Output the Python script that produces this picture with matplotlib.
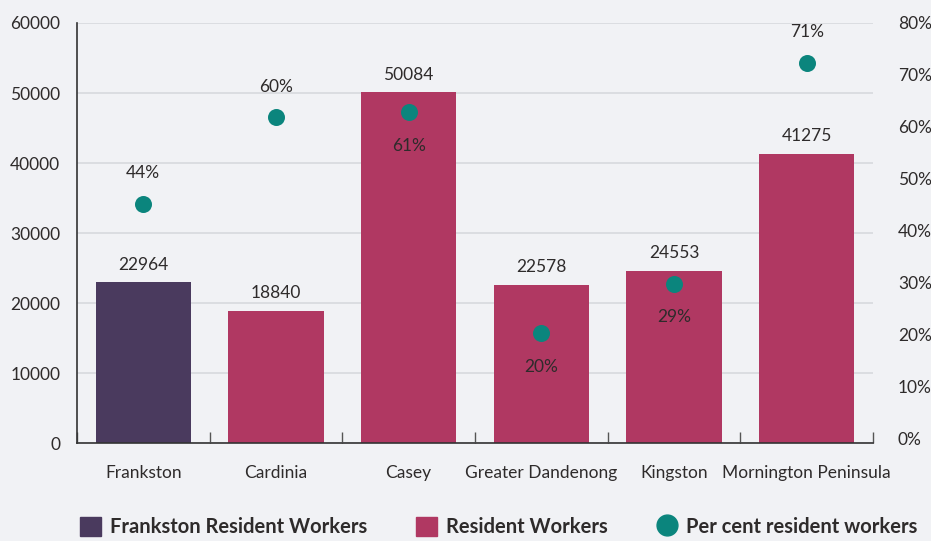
import numpy as np
import matplotlib.pyplot as plt
from matplotlib.patches import Patch
from matplotlib.lines import Line2D

plt.rcParams['font.family'] = ['Lato', 'DejaVu Sans']

# data
councils = ['Frankston', 'Cardinia', 'Casey', 'Greater Dandenong', 'Kingston', 'Mornington Peninsula']
resident_workers = [22964, 18840, 50084, 22578, 24553, 41275]
# dot positions as drawn, and the labels printed next to them
pct_resident = [45.2, 61.9, 62.8, 20.3, 29.8, 72.4]
pct_labels = ['44%', '60%', '61%', '20%', '29%', '71%']
pct_label_side = ['above', 'above', 'below', 'below', 'below', 'above']

bg = '#f1f2f5'
purple = '#4a3a5e'
crimson = '#b03862'
teal = '#0b857d'
txt = '#2e2b2b'

fig = plt.figure(figsize=(9.31, 5.41), dpi=100, facecolor=bg)
ax = fig.add_axes([0.0827, 0.181, 0.855, 0.7765], facecolor=bg)
x = np.arange(len(councils))
colors = [purple] + [crimson] * (len(councils) - 1)

ax.set_axisbelow(True)
ax.yaxis.grid(True, color='#d7d9dd', linewidth=1.2)
ax.bar(x, resident_workers, width=0.72, color=colors, zorder=2)
for xi, v in zip(x, resident_workers):
    ax.annotate(str(v), (xi, v), xytext=(0, 7), textcoords='offset points',
                ha='center', va='bottom', fontsize=12.5, color=txt)

ax.set_xlim(-0.5, len(councils) - 0.5)
ax.set_ylim(0, 60000)
ax.set_yticks(np.arange(0, 60001, 10000))
ax.set_xticks(x)
ax.set_xticklabels(councils)
ax.set_xticks(np.arange(-0.5, len(councils)), minor=True)
ax.tick_params(axis='x', which='major', length=0, pad=16, labelsize=12.5, labelcolor=txt)
ax.tick_params(axis='x', which='minor', length=8, direction='in', color='#555555', width=1)
ax.tick_params(axis='y', length=0, pad=12, labelsize=12.5, labelcolor=txt)
for s in ['top', 'right']:
    ax.spines[s].set_visible(False)
ax.spines['left'].set_color('#333333')
ax.spines['bottom'].set_color('#333333')
ax.spines['left'].set_linewidth(1.2)
ax.spines['bottom'].set_linewidth(1.2)

ax2 = ax.twinx()
ax2.scatter(x, pct_resident, s=150, color=teal, zorder=4, linewidths=0)
for xi, p, lab, side in zip(x, pct_resident, pct_labels, pct_label_side):
    dy = 22 if side == 'above' else -24
    ax2.annotate(lab, (xi, p), xytext=(0, dy), textcoords='offset points',
                 ha='center', va='center', fontsize=12.5, color=txt)
ax2.set_ylim(-0.8, 79.05)
ax2.set_yticks(np.arange(0, 81, 10))
ax2.set_yticklabels([f'{t}%' for t in range(0, 81, 10)])
ax2.tick_params(axis='y', length=0, pad=18, labelsize=12.5, labelcolor=txt)
for s in ax2.spines.values():
    s.set_visible(False)

handles = [Patch(color=purple), Patch(color=crimson),
           Line2D([], [], marker='o', linestyle='none', markersize=15, color=teal)]
labels = ['Frankston Resident Workers', 'Resident Workers', 'Per cent resident workers']
fig.legend(handles, labels, loc='center', bbox_to_anchor=(0.536, 0.026), ncol=3,
           frameon=False, handlelength=1.05, handleheight=1.05, handletextpad=0.45,
           columnspacing=2.4, prop={'weight': 'bold', 'size': 14.5}, labelcolor=txt)

fig.savefig('out.png', dpi=100, facecolor=bg)
